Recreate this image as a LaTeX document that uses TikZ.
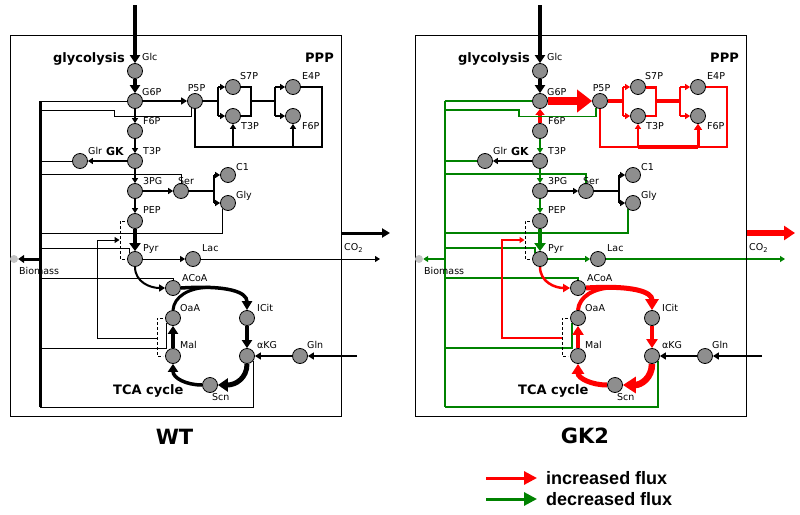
\documentclass[tikz,border=0pt]{standalone}
\usepackage{fontspec}
\setmainfont{DejaVu Sans}
\newfontfamily\legfont{Liberation Sans}
\usetikzlibrary{arrows.meta}
\pgfdeclarelayer{bg}
\pgfsetlayers{bg,main}
\definecolor{metgray}{RGB}{142,142,142}
\definecolor{biogray}{RGB}{195,195,195}
\definecolor{fgreen}{RGB}{0,130,0}
\definecolor{fred}{RGB}{255,0,0}
\tikzset{
  met/.style={circle,draw=black,fill=metgray,line width=0.8pt,minimum size=15pt,inner sep=0pt},
  bio/.style={circle,fill=biogray,minimum size=8pt,inner sep=0pt},
  lbl/.style={font=\fontsize{9.5}{10}\selectfont,inner sep=0pt,text height=6.9pt,text depth=0pt,anchor=west},
  bigl/.style={font=\bfseries\fontsize{13}{14}\selectfont,inner sep=0pt,text height=9.5pt,text depth=0pt},
  gkl/.style={font=\bfseries\fontsize{11}{12}\selectfont,inner sep=0pt,text height=8pt,text depth=0pt,anchor=west},
  ttl/.style={font=\bfseries\fontsize{21}{24}\selectfont,inner sep=0pt,text height=15pt,text depth=0pt},
  legl/.style={font=\legfont\bfseries\fontsize{18}{20}\selectfont,inner sep=0pt,text height=13pt,text depth=0pt,anchor=west},
  tS/.style={-{Triangle[length=5pt,width=6pt]}},
  dsh/.style={black,line width=0.8pt,dash pattern=on 3pt off 2pt},
  panelbox/.style={draw=black,line width=0.9pt},
  sIn/.style={black,line width=4pt,-{Triangle[length=8pt,width=10pt]}},
  sGlc/.style={black,line width=4pt,-{Triangle[length=8pt,width=10pt]}},
  sSer/.style={black,line width=1.2pt},
  sGln/.style={black,line width=2pt,-{Triangle[length=6pt,width=7pt]}},
}
\newcommand{\panelnodes}[1]{%
  \draw[panelbox] (10,35) rectangle (341,416);
  \node[met] (#1glc) at (135,71) {};
  \node[met] (#1g6p) at (135,101) {};
  \node[met] (#1f6p) at (135,131) {};
  \node[met] (#1t3p) at (135,161) {};
  \node[met] (#1pg) at (135,191) {};
  \node[met] (#1pep) at (135,221) {};
  \node[met] (#1pyr) at (135,259) {};
  \node[met] (#1lac) at (193,259) {};
  \node[met] (#1acoa) at (173,288) {};
  \node[met] (#1oaa) at (173,318) {};
  \node[met] (#1icit) at (247,318) {};
  \node[met] (#1mal) at (173,356) {};
  \node[met] (#1akg) at (247,356) {};
  \node[met] (#1scn) at (210,385) {};
  \node[met] (#1gln) at (300,356) {};
  \node[met] (#1glr) at (80,161) {};
  \node[met] (#1p5p) at (195,101) {};
  \node[met] (#1s7p) at (233,87) {};
  \node[met] (#1tp) at (233,116) {};
  \node[met] (#1e4p) at (293,87) {};
  \node[met] (#1fp) at (293,116) {};
  \node[met] (#1ser) at (181,191) {};
  \node[met] (#1cone) at (228,175) {};
  \node[met] (#1gly) at (228,203) {};
  \node[bio] (#1bio) at (14,259) {};
  \node[lbl] (#1lglc) at (142,57.5) {Glc};
  \node[lbl] (#1lg6p) at (142,92) {G6P};
  \node[lbl] (#1lf6p) at (143,121) {F6P};
  \node[lbl] (#1lt3p) at (143,151) {T3P};
  \node[lbl] (#1lpg) at (143,181) {3PG};
  \node[lbl] (#1lpep) at (143,210.5) {PEP};
  \node[lbl] (#1lpyr) at (143,248) {Pyr};
  \node[lbl,anchor=center] (#1lp5p) at (196.5,88) {P5P};
  \node[lbl] (#1ls7p) at (240,76.5) {S7P};
  \node[lbl] (#1le4p) at (302,76.5) {E4P};
  \node[lbl] (#1ltp) at (241,126) {T3P};
  \node[lbl] (#1lfp) at (302,126) {F6P};
  \node[lbl] (#1lglr) at (88,151) {Glr};
  \node[gkl] (#1lgk) at (106,151) {GK};
  \node[lbl] (#1lser) at (178,181) {Ser};
  \node[lbl] (#1lcone) at (236,167) {C1};
  \node[lbl] (#1lgly) at (236,195) {Gly};
  \node[lbl] (#1llac) at (202,248) {Lac};
  \node[lbl] (#1lacoa) at (182,278) {ACoA};
  \node[lbl] (#1loaa) at (180,308) {OaA};
  \node[lbl] (#1licit) at (257,308) {ICit};
  \node[lbl] (#1lmal) at (180,345) {Mal};
  \node[lbl] (#1lakg) at (257,345) {αKG};
  \node[lbl] (#1lgln) at (307,345) {Gln};
  \node[lbl] (#1lscn) at (212,397) {Scn};
  \node[bigl,anchor=west] (#1ltca) at (113,390) {TCA cycle};
  \node[lbl] (#1lbio) at (19,271) {Biomass};
  \node[bigl,anchor=east] (#1lglyco) at (125,58) {glycolysis};
  \node[bigl,anchor=east] (#1lppp) at (334,58) {PPP};
  \node[lbl] (#1lco) at (344,247) {CO\textsubscript{2}};
}
\newcommand{\paneledges}[1]{%
  \coordinate (#1tin) at (135,5);
  \coordinate (#1trt) at (40,101);
  \coordinate (#1trb) at (40,407);
  \coordinate (#1sb) at (214,191);
  \coordinate (#1pa) at (218,101);
  \coordinate (#1pb) at (251,101);
  \coordinate (#1pc) at (275,101);
  \coordinate (#1pd) at (322,147);
  \coordinate (#1lout) at (380,259);
  \coordinate (#1coa) at (341,233);
  \coordinate (#1cob) at (390,233);
  \coordinate (#1glnin) at (357,356);
  \coordinate (#1mlk) at (157,338);
  \coordinate (#1plk) at (119.5,240);
  \coordinate (#1oaj) at (210,287.3);
  % glycolysis
  \draw[sIn] (#1tin) -- (#1glc);
  \draw[sGlc] (#1glc) -- (#1g6p);
  \draw[sGF] (#1g6p) -- (#1f6p);
  \draw[sFT] (#1f6p) -- (#1t3p);
  \draw[sTP] (#1t3p) -- (#1pg);
  \draw[sPP] (#1pg) -- (#1pep);
  \draw[sPepPyr] (#1pep) -- (#1pyr);
  \draw[sGP] (#1g6p) -- (#1p5p);
  \draw[sTG] (#1t3p) -- (#1glr);
  % biomass drains
  \draw[sTrunk] (#1trt) -- (#1trb);
  \draw[sDr] (#1g6p) -- (#1trt);
  \draw[sDr] (#1p5p.-120) -- ++(0,8.5) -| (114,110) -- (#1trt |- 0,110);
  \draw[sDr] (#1glr) -- (#1glr -| #1trt);
  \draw[sDr] (#1ser.north) |- (#1trt |- 0,174);
  \draw[sDr] (#1gly.-130) |- (#1trt |- 0,233);
  \draw[sDr] (#1pyr.130) |- (#1trt |- 0,248);
  \draw[sDr] (#1acoa.north) |- (#1trt |- 0,278);
  \draw[sDr] (#1oaa.-140) |- (#1trt |- 0,348);
  \draw[sDr] (#1akg.-40) |- (#1trb);
  \draw[sBio] (#1trt |- #1bio) -- (#1bio);
  % PPP
  \draw[sPPPm] (#1p5p) -- (#1pa);
  \draw[sPPP] (#1pa |- #1s7p) -- (#1pa |- #1tp);
  \draw[sPPPa] (#1pa |- #1s7p) -- (#1s7p);
  \draw[sPPPa] (#1pa |- #1tp) -- (#1tp);
  \draw[sPPP] (#1s7p) -| (#1pb |- #1tp) -- (#1tp);
  \draw[sPPPm] (#1pb) -- (#1pc);
  \draw[sPPP] (#1pc |- #1e4p) -- (#1pc |- #1fp);
  \draw[sPPPa] (#1pc |- #1e4p) -- (#1e4p);
  \draw[sPPPa] (#1pc |- #1fp) -- (#1fp);
  \draw[sPPP] (#1e4p) -| (#1pd) -| (#1p5p.south);
  \draw[sPPPa] (#1tp |- #1pd) -- (#1tp);
  \draw[sPPPa] (#1fp |- #1pd) -- (#1fp);
  % serine
  \draw[sSer,tS] (#1pg) -- (#1ser);
  \draw[sSer] (#1ser) -- (#1sb);
  \draw[sSer] (#1sb |- #1cone) -- (#1sb |- #1gly);
  \draw[sSer,tS] (#1sb |- #1cone) -- (#1cone);
  \draw[sSer,tS] (#1sb |- #1gly) -- (#1gly);
  % pyruvate
  \draw[sLac] (#1pyr) -- (#1lac);
  \draw[sLac] (#1lac) -- (#1lout);
  \draw[sCO] (#1coa) -- (#1cob);
  \draw[dsh] (125,221) -- (120,221) -- (120,259) -- (125,259);
  \draw[dsh] (163,318) -- (157,318) -- (157,356) -- (163,356);
  \draw[sLink] (#1mlk) -| (97,240) -- (#1plk);
  % TCA
  \draw[sPA] (#1pyr.south) .. controls (135,282) and (150,288) .. (#1acoa.west);
  \draw[sAI] (#1acoa.east) .. controls (228,285) and (247,292) .. (#1icit.north);
  \draw[sOA] (#1oaa.north) .. controls (174,297) and (188,287.5) .. (#1oaj);
  \draw[sIK] (#1icit) -- (#1akg);
  \draw[sKS] (#1akg.south) .. controls (247,378) and (236,385) .. (#1scn.east);
  \draw[sSM] (#1scn.west) .. controls (186,385) and (173,378) .. (#1mal.south);
  \draw[sMO] (#1mal) -- (#1oaa);
  \draw[sGln] (#1gln) -- (#1akg);
  \draw[sGln] (#1glnin) -- (#1gln);
}
\begin{document}
\begin{tikzpicture}[x=1pt,y=-1pt]
\useasboundingbox (0,0) rectangle (800,514);
% ---------------- WT ----------------
\begin{scope}[
  sGF/.style={black,line width=1.2pt,tS},
  sFT/.style={black,line width=2pt,tS},
  sTP/.style={black,line width=2pt,tS},
  sPP/.style={black,line width=2pt,tS},
  sPepPyr/.style={black,line width=4pt,-{Triangle[length=8pt,width=11pt]}},
  sGP/.style={black,line width=2pt,-{Triangle[length=6pt,width=7pt]}},
  sTG/.style={black,line width=2pt,tS},
  sTrunk/.style={black,line width=3pt},
  sDr/.style={black,line width=1pt},
  sBio/.style={black,line width=3pt,-{Triangle[length=6pt,width=8pt]}},
  sPPP/.style={black,line width=1.2pt},
  sPPPm/.style={black,line width=1.2pt},
  sPPPa/.style={black,line width=1.2pt,tS},
  sLac/.style={black,line width=1pt,tS},
  sCO/.style={black,line width=3pt,-{Triangle[length=8pt,width=9pt]}},
  sLink/.style={black,line width=1pt,tS},
  sPA/.style={black,line width=2pt,-{Triangle[length=6pt,width=7pt]}},
  sAI/.style={black,line width=3.5pt,-{Triangle[length=9pt,width=10pt]}},
  sOA/.style={black,line width=3pt},
  sIK/.style={black,line width=3.5pt,-{Triangle[length=8pt,width=10pt]}},
  sKS/.style={black,line width=5pt,-{Triangle[length=10pt,width=13pt]}},
  sSM/.style={black,line width=3.5pt,-{Triangle[length=8pt,width=10pt]}},
  sMO/.style={black,line width=3.5pt,-{Triangle[length=8pt,width=10pt]}},
]
\panelnodes{w}
\begin{pgfonlayer}{bg}
\paneledges{w}
\end{pgfonlayer}
\end{scope}
% ---------------- GK2 ----------------
\begin{scope}[shift={(405,0)},
  sGF/.style={fred,line width=4pt,{Triangle[length=6pt,width=9pt]}-},
  sFT/.style={fgreen,line width=1.2pt,tS},
  sTP/.style={fgreen,line width=1.2pt,tS},
  sPP/.style={fgreen,line width=1.2pt,tS},
  sPepPyr/.style={fgreen,line width=4pt,-{Triangle[length=8pt,width=11pt]}},
  sGP/.style={fred,line width=8pt,-{Triangle[length=15pt,width=22pt]}},
  sTG/.style={black,line width=1.5pt,tS},
  sTrunk/.style={fgreen,line width=1.5pt},
  sDr/.style={fgreen,line width=1.2pt},
  sBio/.style={fgreen,line width=1.5pt,tS},
  sPPP/.style={fred,line width=2pt},
  sPPPm/.style={fred,line width=3.5pt},
  sPPPa/.style={fred,line width=2pt,tS},
  sLac/.style={fgreen,line width=1.2pt,tS},
  sCO/.style={fred,line width=6pt,-{Triangle[length=11pt,width=14pt]}},
  sLink/.style={fred,line width=1.2pt,tS},
  sPA/.style={fred,line width=2.5pt,-{Triangle[length=7pt,width=8pt]}},
  sAI/.style={fred,line width=5pt,-{Triangle[length=11pt,width=13pt]}},
  sOA/.style={fred,line width=4pt},
  sIK/.style={fred,line width=4.5pt,-{Triangle[length=9pt,width=11pt]}},
  sKS/.style={fred,line width=6.5pt,-{Triangle[length=13pt,width=16pt]}},
  sSM/.style={fred,line width=5pt,-{Triangle[length=10pt,width=12pt]}},
  sMO/.style={fred,line width=4.5pt,-{Triangle[length=9pt,width=11pt]}},
]
\panelnodes{k}
\begin{pgfonlayer}{bg}
\paneledges{k}
\draw[fred,line width=4pt] (ktp |- kpd) -- (kfp |- kpd);
\draw[fred,line width=3pt,-{Triangle[length=6pt,width=8pt]}] (kfp |- kpd) -- (kfp);
\draw[fred,line width=3pt] (ks7p) -- (ks7p -| kpb);
\end{pgfonlayer}
\end{scope}
% ---------------- titles and legend ----------------
\node[ttl] (twt) at (174.5,436.5) {WT};
\node[ttl] (tgk) at (585,436) {GK2};
\coordinate (lra) at (486,478);
\coordinate (lrb) at (537,478);
\coordinate (lga) at (486,499);
\coordinate (lgb) at (537,499);
\draw[fred,line width=3pt,-{Triangle[length=13pt,width=13pt]}] (lra) -- (lrb);
\draw[fgreen,line width=3pt,-{Triangle[length=13pt,width=13pt]}] (lga) -- (lgb);
\node[legl] (linc) at (546,478) {increased flux};
\node[legl] (ldec) at (546,499) {decreased flux};
\end{tikzpicture}
\end{document}
